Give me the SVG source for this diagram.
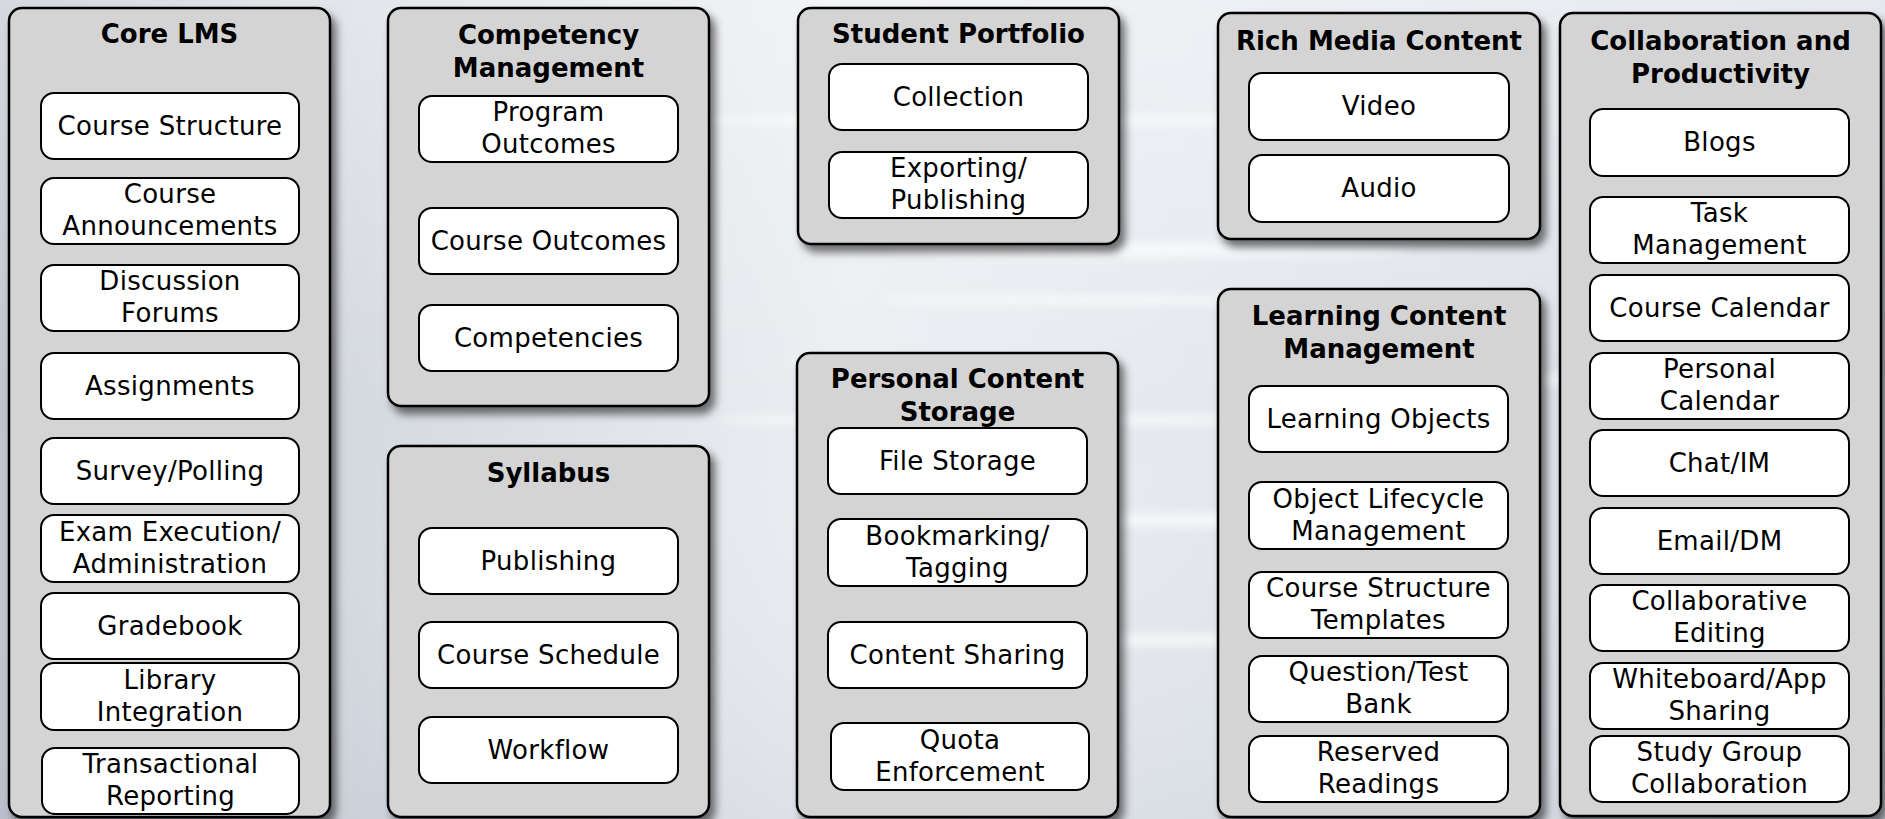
<svg xmlns="http://www.w3.org/2000/svg" width="1885" height="819" viewBox="0 0 1885 819">
<defs>
<linearGradient id="bg" x1="0" y1="0" x2="1" y2="0">
<stop offset="0" stop-color="#bfc5cf"/>
<stop offset="0.2" stop-color="#d6dae1"/>
<stop offset="0.45" stop-color="#eceef2"/>
<stop offset="0.65" stop-color="#e4e8ee"/>
<stop offset="1" stop-color="#d9dde4"/>
</linearGradient>
<linearGradient id="bgv" x1="0" y1="0" x2="0" y2="1">
<stop offset="0" stop-color="#ffffff" stop-opacity="0.35"/>
<stop offset="0.5" stop-color="#ffffff" stop-opacity="0"/>
<stop offset="1" stop-color="#9aa2b0" stop-opacity="0.15"/>
</linearGradient>
<filter id="blur" x="-10%" y="-50%" width="120%" height="200%"><feGaussianBlur stdDeviation="4"/></filter>
<filter id="sh" x="-10%" y="-10%" width="130%" height="130%">
<feDropShadow dx="5" dy="7" stdDeviation="4" flood-color="#000" flood-opacity="0.55"/>
</filter>
<style>
.grp{fill:#d4d4d4;stroke:#000;stroke-width:2.5;filter:url(#sh)}
.item{fill:#fff;stroke:#000;stroke-width:2}
.t{font-family:"DejaVu Sans",Verdana,sans-serif;font-size:26px;letter-spacing:0.3px;fill:#000;text-anchor:middle}
.h{font-family:"DejaVu Sans",Verdana,sans-serif;font-size:26px;font-weight:bold;fill:#000;text-anchor:middle}
</style>
</defs>
<rect x="0" y="0" width="1885" height="819" fill="url(#bg)"/>
<rect x="0" y="0" width="1885" height="819" fill="url(#bgv)"/>
<g opacity="0.6" filter="url(#blur)" fill="#fff">
<ellipse cx="1000" cy="120" rx="300" ry="6"/>
<ellipse cx="1150" cy="250" rx="260" ry="8"/>
<ellipse cx="1100" cy="300" rx="220" ry="5"/>
<ellipse cx="1000" cy="420" rx="280" ry="6"/>
<ellipse cx="1200" cy="520" rx="300" ry="7"/>
<ellipse cx="1150" cy="640" rx="260" ry="6"/>
<ellipse cx="1500" cy="380" rx="200" ry="5"/>
</g>
<g id="connectors"/>

<g id="core-lms">
<rect class="grp" x="9" y="8" width="321" height="809" rx="13"/>
<text class="h" x="169.5" y="43">Core LMS</text>
<rect class="item" x="41" y="93" width="258" height="66" rx="13"/>
<text class="t" x="170" y="134.5">Course Structure</text>
<rect class="item" x="41" y="178" width="258" height="66" rx="13"/>
<text class="t" x="170" y="203">Course<tspan x="170" y="235">Announcements</tspan></text>
<rect class="item" x="41" y="265" width="258" height="66" rx="13"/>
<text class="t" x="170" y="290">Discussion<tspan x="170" y="322">Forums</tspan></text>
<rect class="item" x="41" y="353" width="258" height="66" rx="13"/>
<text class="t" x="170" y="394.5">Assignments</text>
<rect class="item" x="41" y="438" width="258" height="66" rx="13"/>
<text class="t" x="170" y="479.5">Survey/Polling</text>
<rect class="item" x="41" y="515" width="258" height="67" rx="13"/>
<text class="t" x="170" y="540.5">Exam Execution/<tspan x="170" y="572.5">Administration</tspan></text>
<rect class="item" x="41" y="593" width="258" height="66" rx="13"/>
<text class="t" x="170" y="634.5">Gradebook</text>
<rect class="item" x="41" y="663" width="258" height="67" rx="13"/>
<text class="t" x="170" y="688.5">Library<tspan x="170" y="720.5">Integration</tspan></text>
<rect class="item" x="42" y="748" width="257" height="66" rx="13"/>
<text class="t" x="170.5" y="773">Transactional<tspan x="170.5" y="805">Reporting</tspan></text>
</g>

<g id="competency-management">
<rect class="grp" x="388" y="8" width="321" height="398" rx="13"/>
<text class="h" x="548.5" y="44">Competency<tspan x="548.5" y="77">Management</tspan></text>
<rect class="item" x="419" y="96" width="259" height="66" rx="13"/>
<text class="t" x="548.5" y="121">Program<tspan x="548.5" y="153">Outcomes</tspan></text>
<rect class="item" x="419" y="208" width="259" height="66" rx="13"/>
<text class="t" x="548.5" y="249.5">Course Outcomes</text>
<rect class="item" x="419" y="305" width="259" height="66" rx="13"/>
<text class="t" x="548.5" y="346.5">Competencies</text>
</g>

<g id="syllabus">
<rect class="grp" x="388" y="446" width="321" height="371" rx="13"/>
<text class="h" x="548.5" y="482">Syllabus</text>
<rect class="item" x="419" y="528" width="259" height="66" rx="13"/>
<text class="t" x="548.5" y="569.5">Publishing</text>
<rect class="item" x="419" y="622" width="259" height="66" rx="13"/>
<text class="t" x="548.5" y="663.5">Course Schedule</text>
<rect class="item" x="419" y="717" width="259" height="66" rx="13"/>
<text class="t" x="548.5" y="758.5">Workflow</text>
</g>

<g id="student-portfolio">
<rect class="grp" x="798" y="8" width="321" height="236" rx="13"/>
<text class="h" x="958.5" y="43">Student Portfolio</text>
<rect class="item" x="829" y="64" width="259" height="66" rx="13"/>
<text class="t" x="958.5" y="105.5">Collection</text>
<rect class="item" x="829" y="152" width="259" height="66" rx="13"/>
<text class="t" x="958.5" y="177">Exporting/<tspan x="958.5" y="209">Publishing</tspan></text>
</g>

<g id="personal-content-storage">
<rect class="grp" x="797" y="353" width="321" height="464" rx="13"/>
<text class="h" x="957.5" y="388">Personal Content<tspan x="957.5" y="421">Storage</tspan></text>
<rect class="item" x="828" y="428" width="259" height="66" rx="13"/>
<text class="t" x="957.5" y="469.5">File Storage</text>
<rect class="item" x="828" y="519" width="259" height="67" rx="13"/>
<text class="t" x="957.5" y="544.5">Bookmarking/<tspan x="957.5" y="576.5">Tagging</tspan></text>
<rect class="item" x="828" y="622" width="259" height="66" rx="13"/>
<text class="t" x="957.5" y="663.5">Content Sharing</text>
<rect class="item" x="831" y="723" width="258" height="67" rx="13"/>
<text class="t" x="960" y="748.5">Quota<tspan x="960" y="780.5">Enforcement</tspan></text>
</g>

<g id="rich-media-content">
<rect class="grp" x="1218" y="13" width="322" height="226" rx="13"/>
<text class="h" x="1379" y="50">Rich Media Content</text>
<rect class="item" x="1249" y="73" width="260" height="67" rx="13"/>
<text class="t" x="1379" y="115">Video</text>
<rect class="item" x="1249" y="155" width="260" height="67" rx="13"/>
<text class="t" x="1379" y="197">Audio</text>
</g>

<g id="learning-content-management">
<rect class="grp" x="1218" y="289" width="322" height="528" rx="13"/>
<text class="h" x="1379" y="325">Learning Content<tspan x="1379" y="358">Management</tspan></text>
<rect class="item" x="1249" y="386" width="259" height="66" rx="13"/>
<text class="t" x="1378.5" y="427.5">Learning Objects</text>
<rect class="item" x="1249" y="482" width="259" height="67" rx="13"/>
<text class="t" x="1378.5" y="507.5">Object Lifecycle<tspan x="1378.5" y="539.5">Management</tspan></text>
<rect class="item" x="1249" y="572" width="259" height="66" rx="13"/>
<text class="t" x="1378.5" y="597">Course Structure<tspan x="1378.5" y="629">Templates</tspan></text>
<rect class="item" x="1249" y="656" width="259" height="66" rx="13"/>
<text class="t" x="1378.5" y="681">Question/Test<tspan x="1378.5" y="713">Bank</tspan></text>
<rect class="item" x="1249" y="736" width="259" height="66" rx="13"/>
<text class="t" x="1378.5" y="761">Reserved<tspan x="1378.5" y="793">Readings</tspan></text>
</g>

<g id="collaboration-productivity">
<rect class="grp" x="1560" y="13" width="321" height="803" rx="13"/>
<text class="h" x="1720.5" y="50">Collaboration and<tspan x="1720.5" y="83">Productivity</tspan></text>
<rect class="item" x="1590" y="109" width="259" height="67" rx="13"/>
<text class="t" x="1719.5" y="151">Blogs</text>
<rect class="item" x="1590" y="197" width="259" height="66" rx="13"/>
<text class="t" x="1719.5" y="222">Task<tspan x="1719.5" y="254">Management</tspan></text>
<rect class="item" x="1590" y="275" width="259" height="66" rx="13"/>
<text class="t" x="1719.5" y="316.5">Course Calendar</text>
<rect class="item" x="1590" y="353" width="259" height="66" rx="13"/>
<text class="t" x="1719.5" y="378">Personal<tspan x="1719.5" y="410">Calendar</tspan></text>
<rect class="item" x="1590" y="430" width="259" height="66" rx="13"/>
<text class="t" x="1719.5" y="471.5">Chat/IM</text>
<rect class="item" x="1590" y="508" width="259" height="66" rx="13"/>
<text class="t" x="1719.5" y="549.5">Email/DM</text>
<rect class="item" x="1590" y="585" width="259" height="66" rx="13"/>
<text class="t" x="1719.5" y="610">Collaborative<tspan x="1719.5" y="642">Editing</tspan></text>
<rect class="item" x="1590" y="663" width="259" height="66" rx="13"/>
<text class="t" x="1719.5" y="688">Whiteboard/App<tspan x="1719.5" y="720">Sharing</tspan></text>
<rect class="item" x="1590" y="736" width="259" height="66" rx="13"/>
<text class="t" x="1719.5" y="761">Study Group<tspan x="1719.5" y="793">Collaboration</tspan></text>
</g>
</svg>
